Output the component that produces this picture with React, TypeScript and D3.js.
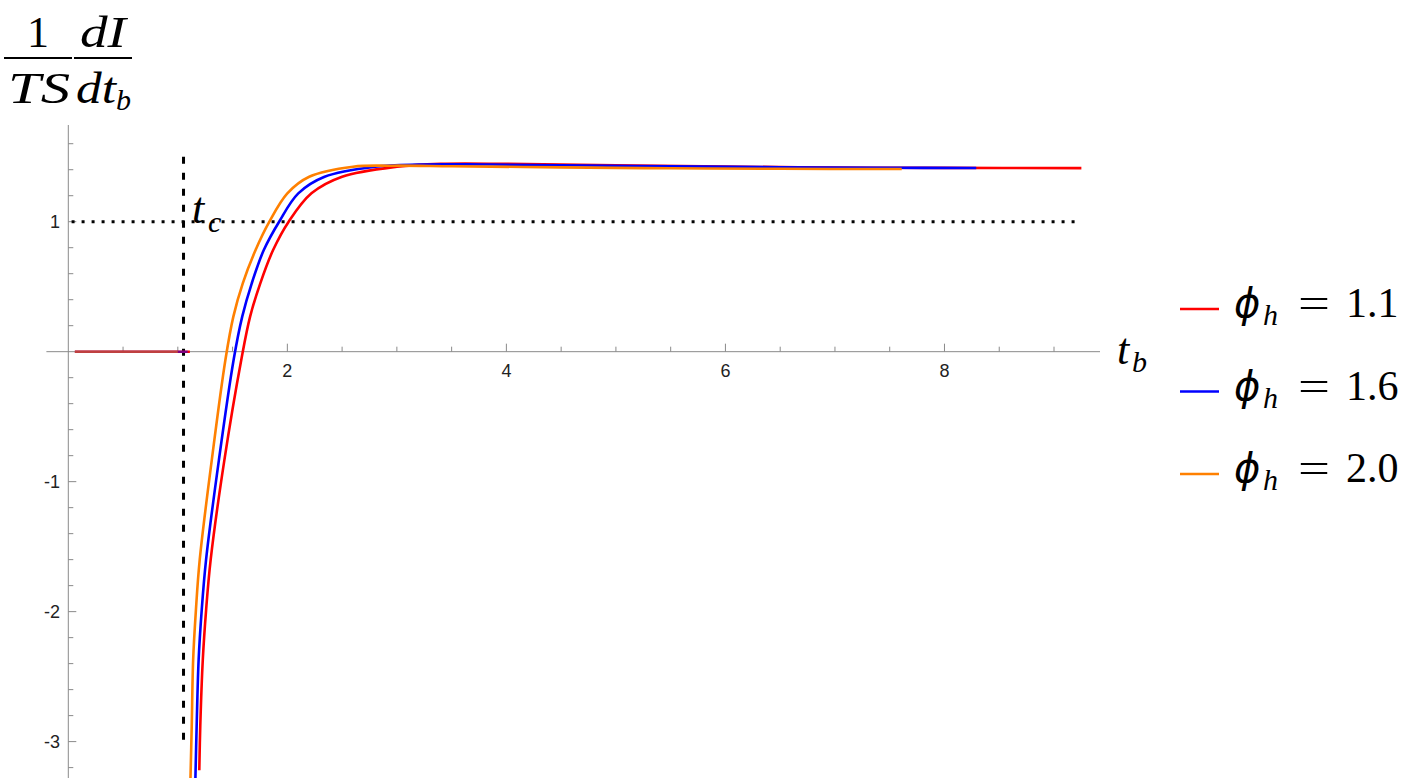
import { useMemo } from "react";
import * as d3 from "d3";

const W = 1416;
const H = 778;

// series: t_b values and (1/TS) dI/dt_b values
const redT = [1.196, 1.205, 1.228, 1.258, 1.3, 1.425, 1.58, 1.66, 1.753, 1.87, 2.012, 2.22, 2.5, 3.0, 3.4, 4, 5, 6, 7, 8, 9.25];
const redV = [-3.22, -2.88, -2.37, -1.99, -1.6, -0.834, -0.06, 0.27, 0.526, 0.782, 1.0, 1.218, 1.346, 1.423, 1.445, 1.445, 1.434, 1.424, 1.417, 1.414, 1.412];
const blueT = [1.16, 1.172, 1.19, 1.218, 1.258, 1.375, 1.51, 1.588, 1.675, 1.785, 1.925, 2.1, 2.34, 2.8, 3.2, 3.8, 4.5, 5.5, 6.5, 7.5, 8.29];
const blueV = [-3.3, -2.88, -2.37, -1.99, -1.6, -0.834, -0.06, 0.27, 0.526, 0.782, 1.0, 1.218, 1.346, 1.423, 1.44, 1.44, 1.434, 1.426, 1.419, 1.415, 1.413];
const orangeT = [1.115, 1.127, 1.14, 1.165, 1.2, 1.31, 1.435, 1.507, 1.593, 1.71, 1.836, 2.0, 2.2, 2.6, 2.95, 3.5, 4.5, 5.5, 6.5, 7.61];
const orangeV = [-3.3, -2.88, -2.37, -1.99, -1.6, -0.834, -0.06, 0.27, 0.526, 0.782, 1.0, 1.218, 1.346, 1.423, 1.431, 1.427, 1.418, 1.411, 1.407, 1.405];

// flat part before t_c (value 0)
const zeroStart = 0.06;
const zeroEnd = [1.11, 1.09, 1.0];

const seriesNames = ["1.1", "1.6", "2.0"];
const seriesColors = ["#ff0000", "#0000ff", "#ff8000"];

const tc = 1.052;
const dashedRange = [-3.0, 1.5];
const dottedLevel = 1;
const dottedRange = [0.03, 9.25];

const xMajor = [2, 4, 6, 8];
const yMajor = [-3, -2, -1, 1];

const serif = "'Liberation Serif', 'Times New Roman', 'DejaVu Serif', serif";
const greek = "'DejaVu Sans', 'Liberation Serif', serif";
const sans = "'Liberation Sans', Arial, sans-serif";

export default function App() {
  const x = d3.scaleLinear().domain([0, 9.42]).range([68.3, 1100]);
  const y = d3.scaleLinear().domain([-3.28, 1.744]).range([778, 125]);

  const xMinor = d3.range(0.5, 9.01, 0.5).filter((t) => !xMajor.includes(t));
  const yMinor = d3
    .range(-3.2, 1.61, 0.2)
    .map((v) => Math.round(v * 10) / 10)
    .filter((v) => !yMajor.includes(v) && v !== 0);

  const series = useMemo(
    () => [
      redT.map((t, i) => [t, redV[i]] as [number, number]),
      blueT.map((t, i) => [t, blueV[i]] as [number, number]),
      orangeT.map((t, i) => [t, orangeV[i]] as [number, number]),
    ],
    []
  );

  const line = d3
    .line<[number, number]>()
    .x((d) => x(d[0]))
    .y((d) => y(d[1]))
    .curve(d3.curveCatmullRom.alpha(0.5));

  const axisColor = "#8a8a8a";
  const x0 = x(0);
  const y0 = y(0);

  return (
    <svg width={W} height={H} style={{ position: "absolute", left: 0, top: 0, background: "#fff" }}>
      <defs>
        <clipPath id="plot">
          <rect x={0} y={0} width={W} height={H} />
        </clipPath>
      </defs>

      {/* axes */}
      <g stroke={axisColor} strokeWidth={1}>
        <line x1={x(-0.2)} x2={x(9.42)} y1={y0} y2={y0} />
        <line x1={x0} x2={x0} y1={y(1.744)} y2={y(-3.28)} />
        {xMajor.map((t) => (
          <line key={"xM" + t} x1={x(t)} x2={x(t)} y1={y0} y2={y0 - 8} />
        ))}
        {xMinor.map((t) => (
          <line key={"xm" + t} x1={x(t)} x2={x(t)} y1={y0} y2={y0 - 5} />
        ))}
        {yMajor.map((v) => (
          <line key={"yM" + v} x1={x0} x2={x0 + 8} y1={y(v)} y2={y(v)} />
        ))}
        {yMinor.map((v) => (
          <line key={"ym" + v} x1={x0} x2={x0 + 5} y1={y(v)} y2={y(v)} />
        ))}
      </g>
      <g fontFamily={sans} fontSize={18} fill="#222">
        {xMajor.map((t) => (
          <text key={"xl" + t} x={x(t)} y={y0 + 25} textAnchor="middle">
            {t}
          </text>
        ))}
        {yMajor.map((v) => (
          <text key={"yl" + v} x={60} y={y(v)} dy="0.35em" textAnchor="end">
            {v < 0 ? "-" + Math.abs(v) : v}
          </text>
        ))}
      </g>

      {/* reference lines */}
      <line
        x1={x(dottedRange[0])}
        x2={x(dottedRange[1])}
        y1={y(dottedLevel)}
        y2={y(dottedLevel)}
        stroke="#000"
        strokeWidth={3}
        strokeDasharray="3 7"
      />
      <line
        x1={x(tc)}
        x2={x(tc)}
        y1={y(dashedRange[1])}
        y2={y(dashedRange[0])}
        stroke="#000"
        strokeWidth={3}
        strokeDasharray="7 9"
      />

      {/* curves */}
      <g clipPath="url(#plot)" fill="none" strokeWidth={2.6}>
        {series.map((s, i) => (
          <line
            key={"z" + i}
            x1={x(zeroStart)}
            x2={x(zeroEnd[i])}
            y1={y0}
            y2={y0}
            stroke={seriesColors[i]}
            strokeOpacity={i === 0 ? 1 : 0.5}
          />
        ))}
        {series.map((s, i) => (
          <path key={"c" + i} d={line(s) ?? ""} stroke={seriesColors[i]} />
        ))}
      </g>

      {/* t_c label */}
      <text x={192} y={223} fontFamily={serif} fontStyle="italic" fontSize={44}>
        t
      </text>
      <text x={208} y={232} fontFamily={serif} fontStyle="italic" fontSize={30}>
        c
      </text>

      {/* t_b axis label */}
      <text x={1117} y={364} fontFamily={serif} fontStyle="italic" fontSize={44}>
        t
      </text>
      <text x={1132} y={372} fontFamily={serif} fontStyle="italic" fontSize={30}>
        b
      </text>

      {/* y axis label */}
      <g fontFamily={serif} fontSize={44}>
        <text x={38} y={47} textAnchor="middle">1</text>
        <line x1={4} x2={72} y1={58} y2={58} stroke="#000" strokeWidth={2} />
        <text x={8} y={103} fontStyle="italic" textLength={62} lengthAdjust="spacingAndGlyphs">
          TS
        </text>
        <text x={80} y={47} fontStyle="italic" textLength={46} lengthAdjust="spacingAndGlyphs">
          dI
        </text>
        <line x1={74} x2={132} y1={58} y2={58} stroke="#000" strokeWidth={2} />
        <text x={76} y={103} fontStyle="italic" textLength={40} lengthAdjust="spacingAndGlyphs">
          dt
        </text>
        <text x={116} y={110} fontStyle="italic" fontSize={30}>
          b
        </text>
      </g>

      {/* legend */}
      <g fontFamily={serif}>
        {seriesNames.map((n, i) => {
          const cy = 309 + i * 82.5;
          return (
            <g key={"lg" + i}>
              <line x1={1180} x2={1219} y1={cy} y2={cy} stroke={seriesColors[i]} strokeWidth={2.6} />
              <text x={1234} y={cy + 8} fontSize={40} fontFamily={greek} fontStyle="italic">
                ϕ
              </text>
              <text x={1263} y={cy + 16} fontSize={30} fontStyle="italic">
                h
              </text>
              <text x={1298} y={cy + 8} fontSize={42} textLength={32} lengthAdjust="spacingAndGlyphs">
                =
              </text>
              <text x={1346} y={cy + 8} fontSize={42}>
                {n}
              </text>
            </g>
          );
        })}
      </g>
    </svg>
  );
}
